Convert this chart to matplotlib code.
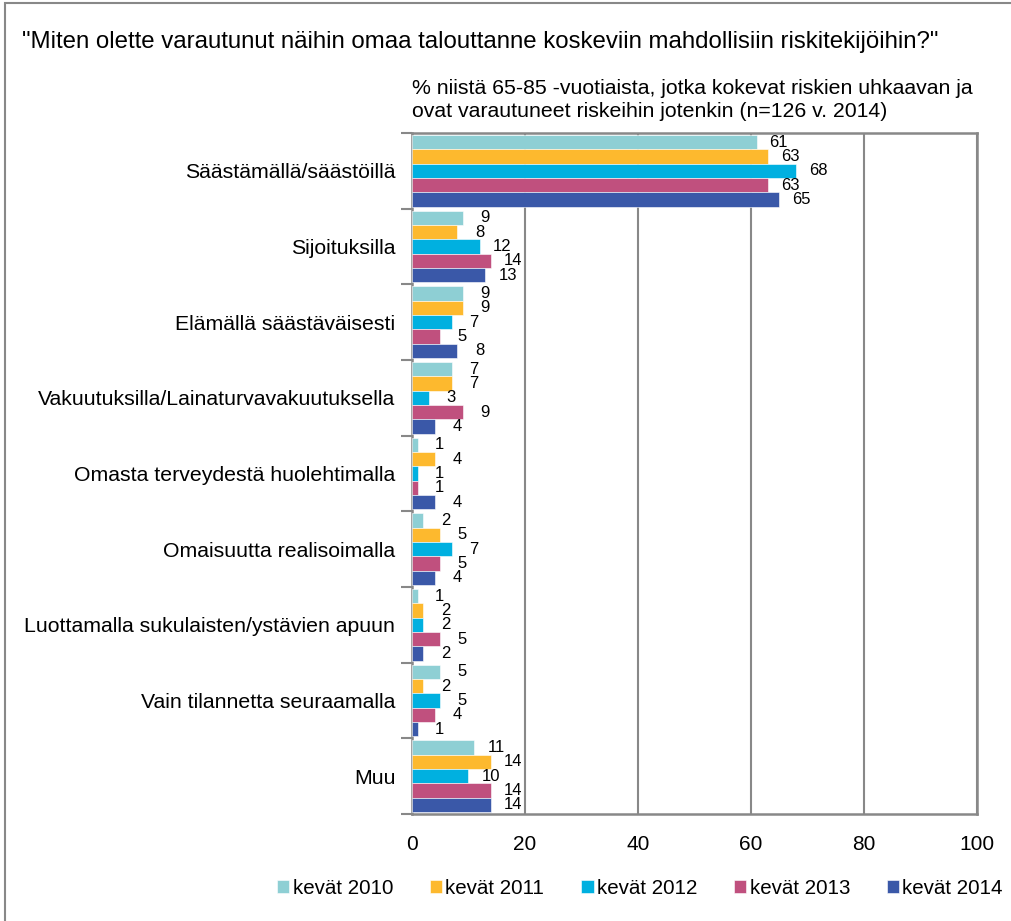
import matplotlib as mpl
mpl.use('Agg')
import matplotlib.pyplot as plt
import numpy as np

plt.rcParams['font.family'] = ['Liberation Sans', 'DejaVu Sans']

categories = ["Säästämällä/säästöillä", "Sijoituksilla", "Elämällä säästäväisesti",
              "Vakuutuksilla/Lainaturvavakuutuksella", "Omasta terveydestä huolehtimalla",
              "Omaisuutta realisoimalla", "Luottamalla sukulaisten/ystävien apuun",
              "Vain tilannetta seuraamalla", "Muu"]
series = ["kevät 2010", "kevät 2011", "kevät 2012", "kevät 2013", "kevät 2014"]
v2010 = [61, 9, 9, 7, 1, 2, 1, 5, 11]
v2011 = [63, 8, 9, 7, 4, 5, 2, 2, 14]
v2012 = [68, 12, 7, 3, 1, 7, 2, 5, 10]
v2013 = [63, 14, 5, 9, 1, 5, 5, 4, 14]
v2014 = [65, 13, 8, 4, 4, 4, 2, 1, 14]
colors = ["#8ECFD4", "#FDB92E", "#00B0E0", "#C0507E", "#3A58A8"]

values = [v2010, v2011, v2012, v2013, v2014]

fig = plt.figure(figsize=(10.12, 9.21), dpi=100)
ax = fig.add_axes([412/1012, 1-814/921, 565/1012, 681/921])

# outer chart border (right and bottom edges fall outside the image)
fig.patches.append(plt.Rectangle((5/1012, -0.05), 1.1, 1 - 3/921 + 0.05, transform=fig.transFigure,
                                 fill=False, edgecolor='#888888', linewidth=1.5))

y = np.arange(len(categories))
h = 0.19
for j, vals in enumerate(values):
    pos = y + (j - 2) * h
    ax.barh(pos, vals, height=h, color=colors[j], edgecolor='white', linewidth=0.4,
            label=series[j], zorder=3)
    for p, v in zip(pos, vals):
        ax.annotate(str(v), (v, p), xytext=(16, 0), textcoords='offset points',
                    ha='center', va='center', fontsize=12, color='black', zorder=4)

ax.set_xlim(0, 100)
ax.set_ylim(len(categories) - 0.5, -0.5)
ax.set_xticks([0, 20, 40, 60, 80, 100])
ax.tick_params(axis='x', length=0, labelsize=15, pad=15)
ax.set_yticks(y)
ax.set_yticklabels(categories)
ax.tick_params(axis='y', which='major', length=0, labelsize=15.3, pad=12)
ax.set_yticks(np.arange(-0.5, len(categories)), minor=True)
ax.tick_params(axis='y', which='minor', length=8, width=1.5, color='#888888')
ax.grid(axis='x', color='#888888', linewidth=1.5, zorder=0)
for s in ax.spines.values():
    s.set_color('#888888')
    s.set_linewidth(1.8)

fig.text(22/1012, 1-42/921, '"Miten olette varautunut näihin omaa talouttanne koskeviin mahdollisiin riskitekijöihin?"',
         fontsize=17.3, ha='left', va='center')
fig.text(412/1012, 1-100/921, "% niistä 65-85 -vuotiaista, jotka kokevat riskien uhkaavan ja\novat varautuneet riskeihin jotenkin (n=126 v. 2014)",
         fontsize=15.3, ha='left', va='center', linespacing=1.3)

ax.legend(loc='center', bbox_to_anchor=(640/1012, 1-888/921), bbox_transform=fig.transFigure,
          ncol=5, frameon=False, fontsize=14.8, handlelength=0.6, handleheight=0.6,
          handletextpad=0.15, columnspacing=1.8)

plt.savefig('out.png')
